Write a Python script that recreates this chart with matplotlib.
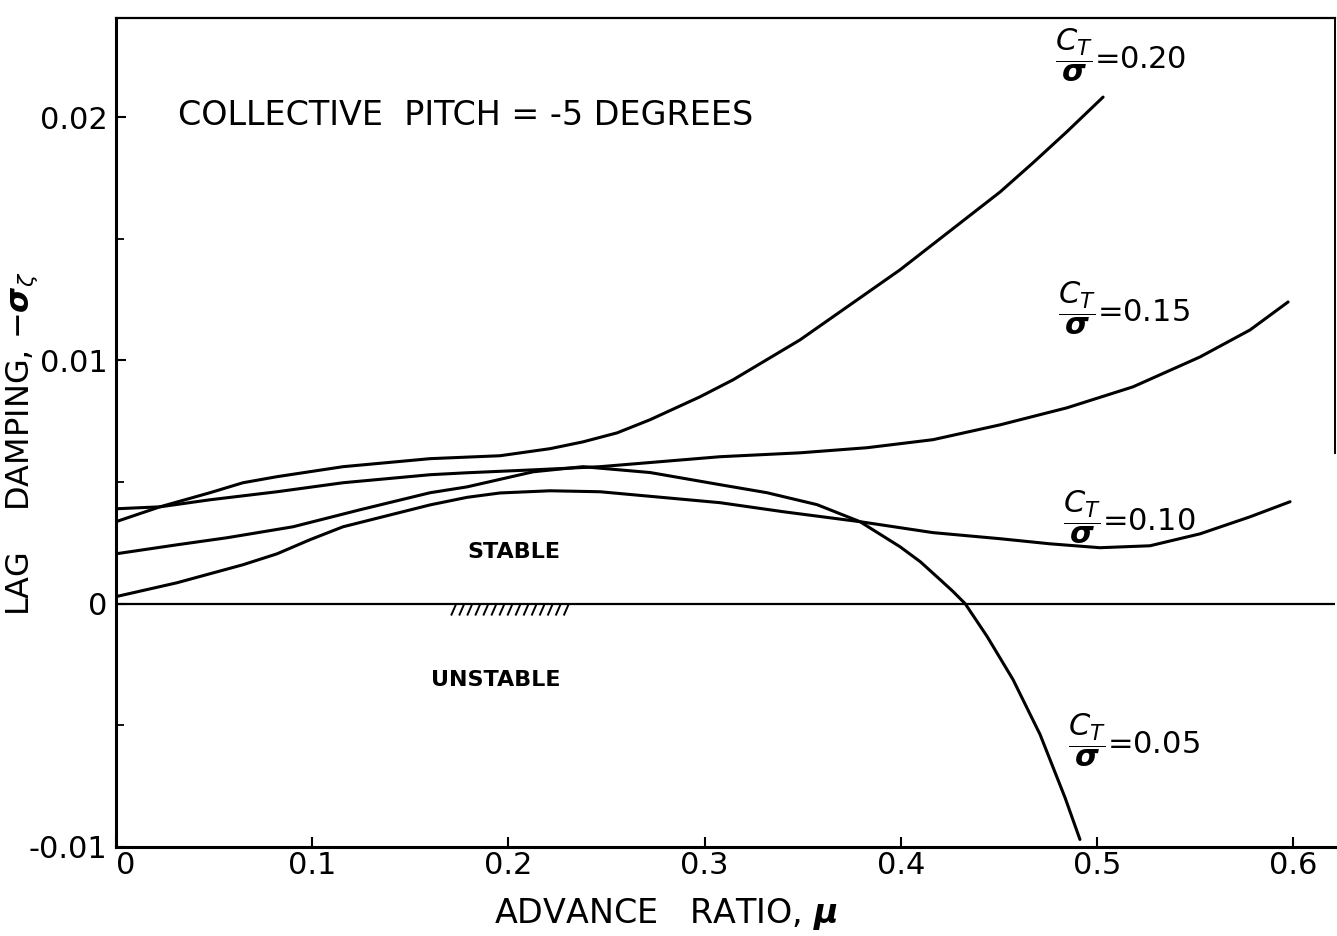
# Lag damping vs advance ratio for several thrust coefficients

import numpy as np
import matplotlib.pyplot as plt
from matplotlib.transforms import ScaledTranslation

plt.rcParams['font.family'] = 'DejaVu Sans'
plt.rcParams['mathtext.fontset'] = 'dejavusans'

# CT/sigma = 0.20
mu_20 = [0.0, 0.0224, 0.0479, 0.0647, 0.0821, 0.1157, 0.1601, 0.1957, 0.2212,
         0.2380, 0.2554, 0.2722, 0.2976, 0.3145, 0.3486, 0.3996, 0.4506, 0.4674,
         0.4847, 0.5031]
damp_20 = [0.00337, 0.00398, 0.00456, 0.00497, 0.00522, 0.00563, 0.00596, 0.00608,
           0.00637, 0.00665, 0.00702, 0.00756, 0.00850, 0.00920, 0.01084, 0.01372,
           0.01692, 0.01812, 0.01940, 0.02082]

# CT/sigma = 0.15
mu_15 = [0.0, 0.0224, 0.0479, 0.0821, 0.1157, 0.1601, 0.1789, 0.2126, 0.2467,
         0.3079, 0.3486, 0.3828, 0.4164, 0.4506, 0.4847, 0.5183, 0.5525, 0.5780,
         0.5974]
damp_15 = [0.00390, 0.00398, 0.00427, 0.00460, 0.00497, 0.00530, 0.00538, 0.00550,
           0.00563, 0.00604, 0.00620, 0.00641, 0.00674, 0.00735, 0.00805, 0.00891,
           0.01014, 0.01125, 0.01240]

# CT/sigma = 0.10
mu_10 = [0.0, 0.0311, 0.0647, 0.0821, 0.0989, 0.1157, 0.1601, 0.1789, 0.1957,
         0.2212, 0.2467, 0.2808, 0.3079, 0.3400, 0.3792, 0.4164, 0.4506, 0.4761,
         0.5015, 0.5270, 0.5525, 0.5780, 0.5984]
damp_10 = [0.00029, 0.00086, 0.00160, 0.00205, 0.00263, 0.00316, 0.00406, 0.00437,
           0.00455, 0.00464, 0.00460, 0.00435, 0.00415, 0.00378, 0.00337, 0.00292,
           0.00267, 0.00246, 0.00230, 0.00238, 0.00287, 0.00357, 0.00419]

# CT/sigma = 0.05
mu_05 = [0.0, 0.0311, 0.0566, 0.0902, 0.1244, 0.1601, 0.1789, 0.2126, 0.2380,
         0.2722, 0.3079, 0.3318, 0.3573, 0.3792, 0.3996, 0.4100, 0.4200, 0.4265,
         0.4328, 0.4440, 0.4572, 0.4710, 0.4837, 0.4913]
damp_05 = [0.00205, 0.00242, 0.00271, 0.00316, 0.00386, 0.00456, 0.00480, 0.00542,
           0.00563, 0.00539, 0.00489, 0.00456, 0.00407, 0.00337, 0.00234, 0.00172,
           0.00099, 0.00051, 0.0, -0.00135, -0.00312, -0.00538, -0.00797, -0.00969]

curves = [(mu_20, damp_20), (mu_15, damp_15), (mu_10, damp_10), (mu_05, damp_05)]

ct_labels = ['0.20', '0.15', '0.10', '0.05']
label_x = [0.4786, 0.4800, 0.4827, 0.4852]
label_y = [0.02255, 0.01216, 0.00357, -0.00559]

fig = plt.figure(figsize=(13.37, 9.36), dpi=100)
ax = fig.add_axes([116/1337, 1 - 847/936, (1335 - 116)/1337, (847 - 18)/936])

for mu, d in curves:
    ax.plot(mu, d, color='black', lw=2.2, solid_capstyle='round')

# stability boundary with hatching on the unstable side
ax.axhline(0.0, color='black', lw=1.6)
for xh in np.arange(0.171, 0.229, 0.0041):
    ax.plot([xh, xh + 0.0020], [-0.00045, -0.00008], color='black', lw=1.4)

ax.set_xlim(0, 0.6213)
ax.set_ylim(-0.01, 0.02407)

ax.set_xticks([0, 0.1, 0.2, 0.3, 0.4, 0.5, 0.6])
ax.set_xticklabels(['0', '0.1', '0.2', '0.3', '0.4', '0.5', '0.6'])
ax.set_yticks([-0.01, 0, 0.01, 0.02])
ax.set_yticklabels(['-0.01', '0', '0.01', '0.02'])
ax.set_yticks([-0.005, 0.005, 0.015], minor=True)
ax.tick_params(axis='both', which='major', direction='in', length=7, width=1.5,
               labelsize=22, top=False, right=False)
ax.tick_params(axis='x', which='major', pad=3)
ax.tick_params(axis='y', which='major', pad=6)
ax.tick_params(axis='y', which='minor', direction='in', length=6, width=1.3,
               right=False)

# nudge the x "0" label off the corner
zero_lab = ax.get_xticklabels()[0]
zero_lab.set_transform(zero_lab.get_transform() +
                       ScaledTranslation(7/72, 0, fig.dpi_scale_trans))

for side in ['left', 'bottom']:
    ax.spines[side].set_linewidth(2.2)
ax.spines['top'].set_linewidth(1.6)
ax.spines['right'].set_linewidth(1.4)
ax.spines['right'].set_bounds(0.0062, 0.02407)

ax.text(0.0316, 0.02008, 'COLLECTIVE  PITCH = -5 DEGREES', fontsize=24,
        ha='left', va='center')
ax.text(0.2029, 0.00214, 'STABLE', fontsize=16, fontweight='bold',
        ha='center', va='center')
ax.text(0.1937, -0.00312, 'UNSTABLE', fontsize=16, fontweight='bold',
        ha='center', va='center')

for lab, lx, ly in zip(ct_labels, label_x, label_y):
    ax.text(lx, ly, r'$\dfrac{C_T}{\mathbfit{\sigma}}$' + '=' + lab, fontsize=22,
            ha='left', va='center')

fig.text(666/1337, 1 - 914/936, r'ADVANCE   RATIO, $\mathbfit{\mu}$', fontsize=24,
         ha='center', va='center')
fig.text(22/1337, 1 - 272/936, r'LAG    DAMPING, $-\mathbfit{\sigma}_\zeta$',
         fontsize=23, ha='center', va='top', rotation=90)

fig.savefig('out.png', dpi=100)
